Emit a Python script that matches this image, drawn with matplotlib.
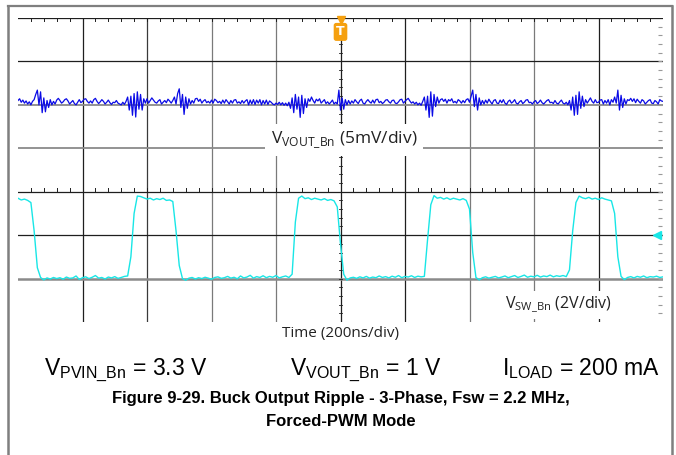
import numpy as np
import matplotlib
matplotlib.use("Agg")
import matplotlib.pyplot as plt
from matplotlib.lines import Line2D

plt.rcParams['mathtext.fontset'] = 'custom'

# ---------------- data ----------------
# VOUT ripple (mV), sampled every 5 ns from 0 to 2000 ns
vout_mv = [
    0.50, 0.70, 0.30, 0.55, 0.20, 0.45, 0.10, 0.35, 0.00, 0.40,
    0.60, 1.20, 1.70, 0.00, 1.50, -0.90, 0.80, -0.80, 0.50, -0.30,
    0.60, 0.00, 0.40, 0.10, 0.55, 0.75, 0.50, 0.20, 0.35, 0.60, 0.70, 0.45, 0.10, 0.30, 0.50, 0.15, 0.00, 0.30, 0.60, 0.25,
    0.40, 0.65, 0.70, 0.40, 0.20, 0.45, 0.20, 0.60, 0.75, 0.40, 0.15, 0.35, 0.60, 0.40, 0.10, 0.30, 0.55, 0.25, 0.05, 0.30,
    0.25, 0.50, 0.20, 0.10, 0.00, 0.30, 0.05, 0.40, 0.90, -0.60, 1.00, -1.20, 1.30, -1.40, 1.50, -0.50, 1.20, -0.60, 0.70, 0.20,
    0.70, 0.20, 0.50, 0.80, 0.55, 0.30, 0.20, 0.45, 0.60, 0.10, 0.30, 0.50, 0.25, 0.65, 0.45, 0.20, 0.50, 0.90, 0.10, 1.30,
    1.85, -0.30, 1.20, -1.10, 0.90, -0.40, 0.70, 0.10, 0.50, 0.20, 0.70, 0.75, 0.40, 0.65, 0.20, 0.45, 0.60, 0.25, 0.40, 0.20,
    0.55, 0.20, 0.65, 0.50, 0.25, 0.40, 0.15, 0.55, 0.20, 0.60, 0.35, 0.10, 0.50, 0.20, 0.55, 0.60, 0.20, 0.35, 0.15, 0.50,
    0.20, 0.45, 0.60, 0.00, 0.55, 0.10, 0.60, 0.05, 0.55, 0.20, 0.60, 0.00, 0.50, 0.10, 0.55, 0.05, 0.45, 0.30, 0.10, 0.00,
    0.20, 0.05, 0.30, 0.00, 0.25, -0.05, 0.20, -0.10, 0.30, -0.40, 0.80, -0.90, 1.20, -0.50, 0.90, -1.44, 1.10, -1.00, 0.70, -0.30,
    0.70, 0.40, 0.90, 0.50, 0.20, 0.65, 0.45, 0.70, 0.20, 0.40, 0.60, 0.15, 0.35, 0.10, 0.30, 0.55, 0.10, 0.30, 0.10, 1.70,
    -0.60, 0.80, -0.50, 0.60, 0.00, 0.50, 0.10, 0.45, 0.20, 0.60, 0.35, 0.15, 0.50, 0.65, 0.20, 0.10, 0.40, 0.60, 0.35, 0.20,
    0.55, 0.20, 0.60, 0.65, 0.25, 0.40, 0.15, 0.30, 0.55, 0.60, 0.35, 0.20, 0.50, 0.55, 0.20, 0.15, 0.35, 0.60, 0.65, 0.20,
    0.40, 0.60, 0.75, 0.45, 0.20, 0.35, 0.10, 0.30, 0.00, 0.20, -0.05, 0.40, 0.90, -0.60, 1.00, -1.44, 1.50, -1.30, 1.20, -0.20,
    0.90, 0.20, 0.60, 0.70, 0.40, 0.65, 0.20, 0.60, 0.45, 0.70, 0.25, 0.40, 0.20, 0.60, 0.45, 0.20, 0.50, 0.25, 0.60, 0.70,
    0.30, 1.00, 1.70, -0.20, 1.20, -0.60, 0.80, 0.00, 0.50, 0.10, 0.55, 0.20, 0.65, 0.35, 0.10, 0.50, 0.60, 0.20, 0.15, 0.55,
    0.25, 0.60, 0.20, 0.05, 0.40, 0.55, 0.20, 0.35, 0.60, 0.20, 0.10, 0.35, 0.50, 0.15, 0.30, 0.55, 0.60, 0.25, 0.30, 0.10,
    0.35, 0.50, 0.15, 0.30, 0.55, 0.25, 0.10, 0.30, 0.50, 0.60, 0.25, 0.30, 0.15, 0.50, 0.20, 0.10, 0.35, 0.55, 0.20, 0.10,
    0.30, 0.00, 0.50, -0.60, 0.90, -1.20, 1.10, -1.10, 1.50, -0.40, 1.00, -0.20, 0.60, 0.20, 0.50, 0.80, 0.40, 0.20, 0.60, 0.25,
    0.30, 0.55, 0.60, 0.10, 0.50, 0.20, 0.60, 0.00, 0.60, 0.30, 0.90, 0.20, 1.70, -0.60, 1.10, -0.30, 0.70, 0.10, 0.60, 0.50,
    0.75, 0.40, 0.70, 0.25, 0.65, 0.40, 0.20, 0.60, 0.45, 0.10, 0.30, 0.50, 0.60, 0.20, 0.15, 0.50, 0.35, 0.10, 0.60, 0.45, 0.40,
]
vout_dt_ns = 5

# Switch node voltage (V), sampled every 10 ns from 0 to 2000 ns
sw_v = [
    3.70, 3.62, 3.66, 3.60, 3.50, 2.20, 0.50, 0.05,
    -0.06, 0.03, -0.02, 0.05, 0.00, 0.04, -0.03, 0.07, 0.01, 0.03, 0.12, -0.04, 0.04,
    0.08, 0.00, 0.06, 0.14, 0.02, 0.05, -0.02, 0.07, 0.03, 0.09, 0.01, 0.05, 0.10,
    0.12, 1.00, 3.00, 3.80,
    3.78, 3.72, 3.66, 3.70, 3.62, 3.68, 3.64, 3.70, 3.60, 3.62,
    3.55, 2.20, 0.60, 0.00,
    -0.08, 0.02, 0.05, -0.02, 0.04, 0.00, 0.06, 0.02, -0.03, 0.05, 0.08, 0.01, 0.04, 0.10, 0.02, 0.06, -0.01,
    0.12, 0.03, 0.07, 0.15, 0.02, 0.09, 0.05, 0.13, 0.04, 0.10, 0.06, 0.14, 0.03, 0.08, 0.12, 0.05,
    0.20, 2.60, 3.70,
    3.80, 3.68, 3.72, 3.64, 3.70, 3.66, 3.62, 3.68, 3.60, 3.64, 3.58,
    3.30, 1.60, 0.20,
    -0.07, 0.03, 0.06, 0.01, 0.08, 0.03, 0.10, 0.02, 0.07, 0.04, 0.12, 0.05, 0.09, 0.03, 0.11, 0.06, 0.14, 0.04,
    0.10, 0.07, 0.13, 0.05, 0.11, 0.08,
    0.10, 1.80, 3.40,
    3.82, 3.70, 3.74, 3.66, 3.72, 3.64, 3.70, 3.66, 3.62, 3.68, 3.60,
    3.20, 1.20, 0.05,
    -0.06, 0.04, 0.08, 0.02, 0.06, 0.10, 0.03, 0.07, 0.12, 0.04, 0.09, 0.14, 0.05, 0.10, 0.16, 0.06, 0.11, 0.08,
    0.15, 0.07, 0.12, 0.09, 0.16, 0.08, 0.13, 0.10, 0.14, 0.09,
    0.40, 2.20, 3.50,
    3.80, 3.72, 3.68, 3.74, 3.66, 3.70, 3.64, 3.72, 3.66, 3.62, 3.58,
    3.00, 1.00, 0.10,
    -0.05, 0.05, 0.09, 0.03, 0.10, 0.06, 0.12, 0.04, 0.09, 0.07, 0.11, 0.05, 0.08,
]
sw_dt_ns = 10

time_per_div_ns = 200
vout_mv_per_div = 5
sw_v_per_div = 2
vout_ref_div = 5     # graticule row of VOUT reference
sw_ref_div = 1       # graticule row of SW ground
trig_level_v = 2.0

label_vout = r'V$_{\mathregular{VOUT\_Bn}}$ (5mV/div)'
label_sw = r'V$_{\mathregular{SW\_Bn}}$ (2V/div)'
label_time = 'Time (200ns/div)'
cond1 = r'V$_{\mathregular{PVIN\_Bn}}$ = 3.3 V'
cond2 = r'V$_{\mathregular{VOUT\_Bn}}$ = 1 V'
cond3 = r'I$_{\mathregular{LOAD}}$ = 200 mA'
title1 = 'Figure 9-29. Buck Output Ripple - 3-Phase, Fsw = 2.2 MHz,'
title2 = 'Forced-PWM Mode'

# ---------------- figure ----------------
W, H = 676, 455
fig = plt.figure(figsize=(W / 100, H / 100), dpi=100)
fig.patch.set_facecolor('white')


def fx(px):
    return px / W


def fy(py):
    return 1 - py / H


# outer frame
frame_c = '#7f7f7f'
fig.add_artist(Line2D([fx(8), fx(672)], [fy(6), fy(6)], color=frame_c, lw=1.6))
fig.add_artist(Line2D([fx(8), fx(8)], [fy(6), fy(455)], color=frame_c, lw=1.8))
fig.add_artist(Line2D([fx(672), fx(672)], [fy(6), fy(455)], color=frame_c, lw=1.8))

ax = fig.add_axes([fx(18), fy(322), fx(663) - fx(18), fy(18) - fy(322)])
ax.set_xlim(0, 10)
ax.set_ylim(0, 7)
ax.axis('off')

dark = '#1e1e1e'
gray = '#7a7a7a'
# vertical graticule
vcols = [dark, '#3a3a3a', gray, gray, dark, dark, gray, gray, dark]
for i, c in zip(range(1, 10), vcols):
    ax.plot([i, i], [0.03, 7], color=c, lw=0.9, zorder=1)
# horizontal graticule
for d in (7, 6, 3, 2):
    ax.plot([0, 10], [d, d], color=dark, lw=0.9, zorder=1)
ax.plot([0, 10], [5, 5], color='#8a8a8a', lw=1.3, zorder=1)
ax.plot([0, 10], [4, 4], color='#8a8a8a', lw=1.3, zorder=1)
ax.plot([0, 10], [1, 1], color='#8a8a8a', lw=1.8, zorder=1)

# minor ticks
minor = np.arange(0.2, 10, 0.2)
for x in minor:
    ax.plot([x, x], [7, 6.92], color=dark, lw=0.7, zorder=1)
    ax.plot([x, x], [3, 3.09], color=dark, lw=0.7, zorder=1)
yminor = np.arange(0.2, 7, 0.2)
for y in yminor:
    ax.plot([4.97, 5.03], [y, y], color=dark, lw=0.6, zorder=1)
ax.plot(np.full(len(yminor), 9.955), yminor, ls='none', marker='_', ms=2.5,
        mew=0.8, color='#999999', zorder=1)

# traces
t_vout = np.arange(len(vout_mv)) * vout_dt_ns
ax.plot(t_vout / time_per_div_ns, vout_ref_div + np.array(vout_mv) / vout_mv_per_div,
        color='#0a0ae6', lw=0.9, zorder=3)
t_sw = np.arange(len(sw_v)) * sw_dt_ns
ax.plot(t_sw / time_per_div_ns, sw_ref_div + np.array(sw_v) / sw_v_per_div,
        color='#18e6e6', lw=1.0, zorder=3)

# trigger markers
ax.plot([5], [6.96], marker='v', ms=6, color='#f5a00f', zorder=5, clip_on=False)
ax.text(5, 6.68, 'T', ha='center', va='center', color='white', fontsize=9,
        fontweight='bold', family='DejaVu Sans', zorder=6,
        bbox=dict(boxstyle='round,pad=0.2', fc='#f5a00f', ec='none'))
ax.plot([9.91], [sw_ref_div + trig_level_v / sw_v_per_div], marker='<', ms=6,
        color='#18e6e6', zorder=5, clip_on=False)

# labels inside graticule
lab_font = 'Open Sans'
fig.text(fx(344), fy(140), label_vout, ha='center', va='center', fontsize=12.5,
         family=lab_font, color='#222222', zorder=4,
         bbox=dict(fc='white', ec='none', pad=4))
fig.text(fx(558), fy(305), label_sw, ha='center', va='center', fontsize=11.5,
         family=lab_font, color='#222222', zorder=4,
         bbox=dict(fc='white', ec='none', pad=3))
fig.text(fx(340), fy(333), label_time, ha='center', va='center', fontsize=11,
         family=lab_font, color='#222222')

# conditions and caption
cf = 'Liberation Sans'
fig.text(fx(44), fy(375), cond1, ha='left', va='baseline', fontsize=16.5, family=cf)
fig.text(fx(366), fy(375), cond2, ha='center', va='baseline', fontsize=16.5, family=cf)
fig.text(fx(660), fy(375), cond3, ha='right', va='baseline', fontsize=16.5, family=cf)
fig.text(fx(341), fy(403), title1, ha='center', va='baseline', fontsize=12,
         family=cf, fontweight='bold')
fig.text(fx(341), fy(426), title2, ha='center', va='baseline', fontsize=12,
         family=cf, fontweight='bold')

fig.savefig('out.png', dpi=100, facecolor='white')
